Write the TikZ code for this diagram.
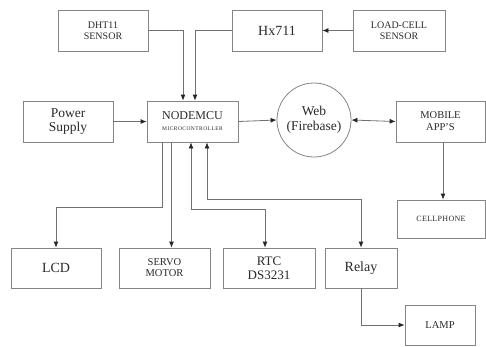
\documentclass[tikz,border=0pt]{standalone}
\usepackage{fontspec}
\setmainfont{Liberation Serif}
\usepackage{tikz}
\usetikzlibrary{arrows.meta,positioning,calc}
\definecolor{boxgray}{HTML}{858585}
\definecolor{linegray}{HTML}{707070}
\definecolor{txtgray}{HTML}{2A2A2A}

\begin{document}
\begin{tikzpicture}[x=1pt, y=-1pt,
    blk/.style={draw=boxgray, fill=white, line width=0.8pt, align=center, text=txtgray, minimum width=90pt, minimum height=41pt, inner sep=2pt},
    cloud/.style={draw=boxgray, fill=white, circle, line width=0.8pt, align=center, text=txtgray, minimum size=74pt, inner sep=0pt},
    link/.style={draw=linegray, line width=0.8pt, -{Latex[length=6pt,width=5pt,color=black!85]}},
    duo/.style={draw=linegray, line width=0.8pt, {Latex[length=6pt,width=5pt,color=black!85]}-{Latex[length=6pt,width=5pt,color=black!85]}}
]
    % canvas
    \useasboundingbox (0,0) rectangle (486,346);

    % Top row
    \node[blk, font=\fontsize{10}{10.5}\selectfont] (dht) at (103,30.5) {DHT11\\SENSOR};
    \node[blk, font=\fontsize{14}{15}\selectfont] (hx) at (277,30.5) {Hx711};
    \node[blk, minimum width=92pt, font=\fontsize{10}{10.5}\selectfont] (load) at (399,30.5) {LOAD-CELL\\SENSOR};

    % Middle row
    \node[blk, font=\fontsize{13.5}{14}\selectfont] (power) at (68,121.5) {Power\\Supply};
    \node[blk, minimum width=91pt, font=\fontsize{12}{12}\selectfont] (mcu) at (192.5,121.5) {NODEMCU\\[-1pt]{\fontsize{5.5}{5.5}\selectfont\addfontfeature{LetterSpace=8}MICROCONTROLLER}};
    \node[cloud, font=\fontsize{13.5}{15}\selectfont] (web) at (314,120) {Web\\(Firebase)};
    \node[blk, minimum width=89pt, font=\fontsize{10.5}{12}\selectfont] (mobile) at (440.5,121.5) {MOBILE\\APP'S};
    \node[blk, minimum width=88pt, minimum height=38pt, font=\fontsize{8}{8}\selectfont\addfontfeature{LetterSpace=4}] (cell) at (441,219) {CELLPHONE};

    % Bottom row
    \node[blk, minimum height=40pt, font=\fontsize{14}{15}\selectfont] (lcd) at (56,268) {LCD};
    \node[blk, minimum width=91pt, minimum height=40pt, font=\fontsize{10.5}{11}\selectfont] (servo) at (164.5,268) {SERVO\\MOTOR};
    \node[blk, minimum width=92pt, minimum height=40pt, font=\fontsize{13}{14}\selectfont] (rtc) at (269,268) {RTC\\DS3231};
    \node[blk, minimum width=72pt, minimum height=40pt, font=\fontsize{14}{15}\selectfont] (relay) at (361,268) {Relay};
    \node[blk, minimum width=70pt, minimum height=40pt, font=\fontsize{10.5}{11}\selectfont] (lamp) at (440,325) {LAMP};

    % Inputs
    \draw[link] (dht.east) -| ([xshift=-9.5pt]mcu.north);
    \draw[link] (hx.west) -| ([xshift=2.5pt]mcu.north);
    \draw[link] (load.west) -- (hx.east);
    \draw[link] (power.east) -- (mcu.west);

    % Cloud and phone
    \draw[link] (mcu.east) -- (web.west);
    \draw[duo] (web.east) -- (mobile.west);
    \draw[link] ([xshift=2.5pt]mobile.south) -- ([xshift=2.5pt]mobile.south |- cell.north);

    % Outputs
    \draw[link] ([xshift=-30.5pt]mcu.south) -- ++(0,65) -| (lcd.north);
    \draw[link] ([xshift=-21pt]mcu.south) -- ([xshift=-21pt]mcu.south |- servo.north);
    \draw[duo] ([xshift=-1.5pt]mcu.south) -- ++(0,67) -| ([xshift=-4pt]rtc.north);
    \draw[duo] ([xshift=14.5pt]mcu.south) -- ++(0,57) -| (relay.north);
    \draw[link] (relay.south) |- (lamp.west);

\end{tikzpicture}
\end{document}
